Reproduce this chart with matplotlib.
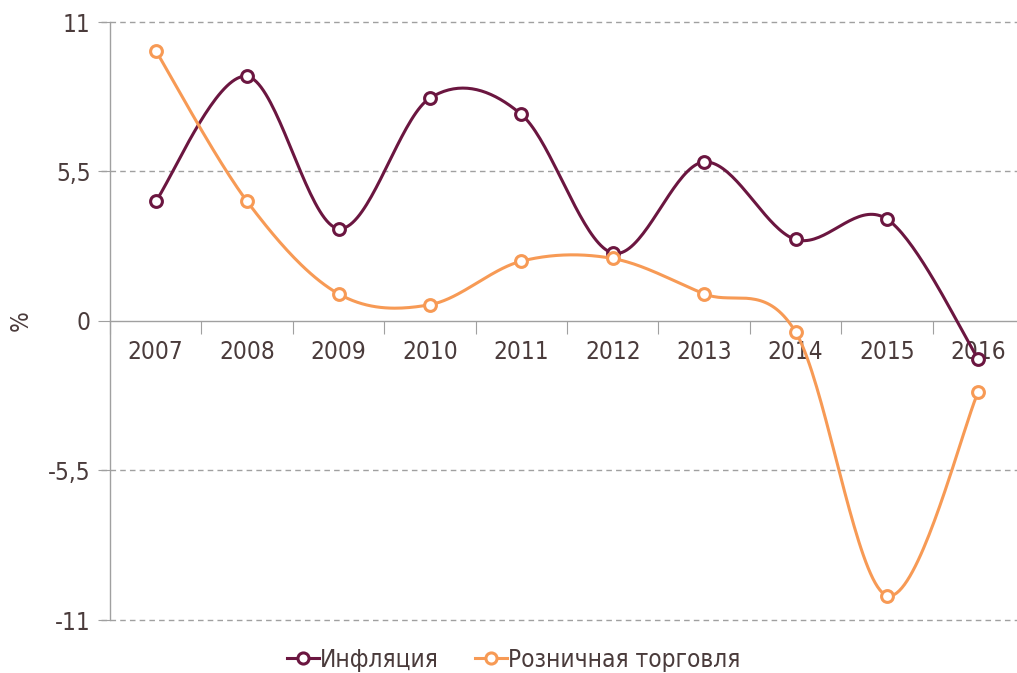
import numpy as np
import matplotlib
matplotlib.use("Agg")
import matplotlib.pyplot as plt
from matplotlib.lines import Line2D

years = ["2007", "2008", "2009", "2010", "2011", "2012", "2013", "2014", "2015", "2016"]
inflation = [4.4, 9.0, 3.4, 8.2, 7.6, 2.5, 5.85, 3.0, 3.75, -1.4]
retail = [9.95, 4.4, 1.0, 0.6, 2.2, 2.3, 1.0, -0.4, -10.1, -2.6]
yticks = [-11, -5.5, 0, 5.5, 11]
ytick_labels = ["-11", "-5,5", "0", "5,5", "11"]

TEXT = "#4a3b3b"
C_INF = "#6b1640"
C_RET = "#f79a55"
GRID = "#a0a0a0"

plt.rcParams['font.family'] = ['DejaVu Sans']
plt.rcParams['font.stretch'] = 'condensed'
FS = 17.5


def smooth(xs, ys, n=40):
    xs = np.asarray(xs, float); ys = np.asarray(ys, float)
    P = np.column_stack([xs, ys])
    out = []
    for i in range(len(P) - 1):
        p0 = P[i - 1] if i > 0 else P[i]
        p1 = P[i]; p2 = P[i + 1]
        p3 = P[i + 2] if i + 2 < len(P) else P[i + 1]
        c1 = p1 + (p2 - p0) / 6.0
        c2 = p2 - (p3 - p1) / 6.0
        t = np.linspace(0, 1, n)[:, None]
        seg = (1 - t) ** 3 * p1 + 3 * (1 - t) ** 2 * t * c1 + 3 * (1 - t) * t ** 2 * c2 + t ** 3 * p2
        out.append(seg if i == 0 else seg[1:])
    s = np.vstack(out)
    return s[:, 0], s[:, 1]


fig = plt.figure(figsize=(10.17, 6.73), dpi=100)
ax = fig.add_axes([110 / 1017, 1 - 620 / 673, (1024 - 110) / 1017, (620 - 22) / 673])

x = np.arange(len(years)) + 0.5
for vals, col in [(inflation, C_INF), (retail, C_RET)]:
    sx, sy = smooth(x, vals)
    ax.plot(sx, sy, color=col, lw=2.2, zorder=3, solid_capstyle='round')
    ax.plot(x, vals, ls='none', marker='o', ms=8.5, mfc='white', mec=col, mew=2.2, zorder=4)

ax.set_xlim(0, len(years))
ax.set_ylim(-11, 11)

for s in ['top', 'right']:
    ax.spines[s].set_visible(False)
ax.spines['left'].set_color(GRID)
ax.spines['bottom'].set_color(GRID)
ax.spines['bottom'].set_position(('data', 0))
ax.spines['left'].set_linewidth(1.0)
ax.spines['bottom'].set_linewidth(1.0)

ax.set_yticks(yticks)
ax.set_yticklabels(ytick_labels)
ax.tick_params(axis='y', direction='out', length=9, color=GRID, labelsize=FS, labelcolor=TEXT, pad=5)
for yv in yticks:
    if yv != 0:
        ax.axhline(yv, color=GRID, lw=1.0, ls=(0, (4, 3)), zorder=1, clip_on=False)
        ax.plot([-0.1, 0], [yv, yv], color=GRID, lw=1.0, ls=(0, (4, 3)), clip_on=False, zorder=1)

ax.set_xticks(np.arange(0, len(years) + 1))
ax.set_xticklabels([])
ax.set_xticks(x, minor=True)
ax.set_xticklabels(years, minor=True)
ax.tick_params(axis='x', which='major', direction='out', length=9, color=GRID)
ax.tick_params(axis='x', which='minor', length=0, labelsize=FS, labelcolor=TEXT, pad=14)

fig.text(21 / 1017, 1 - 321 / 673, "%", rotation=90, ha='center', va='center', fontsize=FS, color=TEXT)

handles = [Line2D([0], [0], color=C_INF, lw=2.2, marker='o', ms=8, mfc='white', mec=C_INF, mew=2.2),
           Line2D([0], [0], color=C_RET, lw=2.2, marker='o', ms=8, mfc='white', mec=C_RET, mew=2.2)]
fig.legend(handles, ["Инфляция", "Розничная торговля"], loc='center', bbox_to_anchor=(514 / 1017, 1 - 660 / 673),
           ncol=2, frameon=False, fontsize=FS, labelcolor=TEXT, handlelength=1.3, handletextpad=0.05,
           columnspacing=1.5)

fig.savefig("out.png", dpi=100)
